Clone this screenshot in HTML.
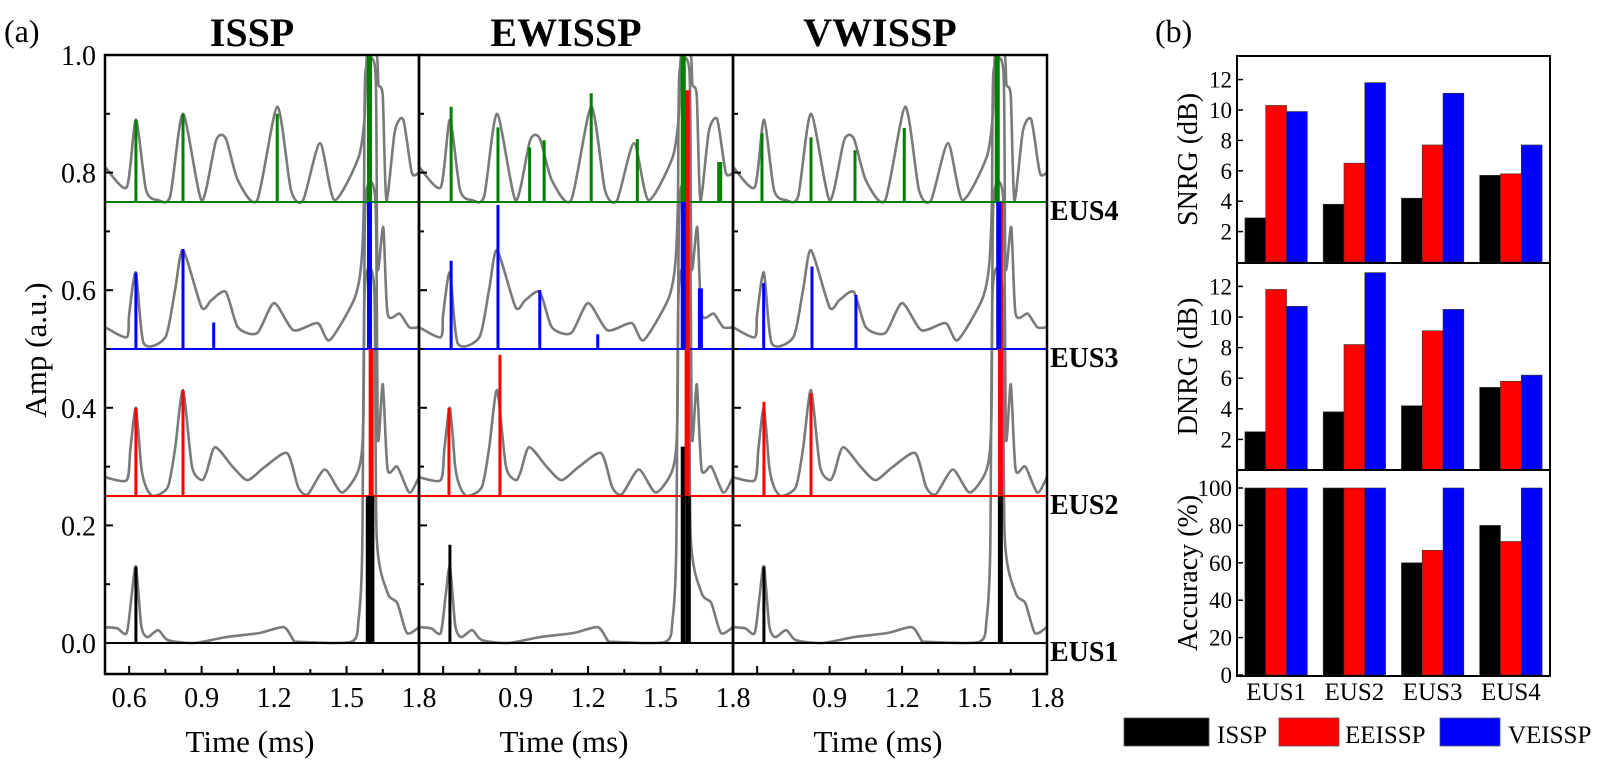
<!DOCTYPE html>
<html><head><meta charset="utf-8"><style>
html,body{margin:0;padding:0;background:#fff;}
svg{display:block;font-family:"Liberation Serif",serif;}
</style></head><body>
<svg id="fig" width="1602" height="768" viewBox="0 0 1602 768" xmlns="http://www.w3.org/2000/svg">
<g id="left"></g>
<g id="right"></g>
</svg>
<script>
// ---------- Data: panel (a) ----------
const panelTitles = ["ISSP", "EWISSP", "VWISSP"];
const eusLabels = ["EUS1", "EUS2", "EUS3", "EUS4"];
const baselines = [0, 0.25, 0.5, 0.75];
const xTicksFirst = [0.6, 0.9, 1.2, 1.5, 1.8];
const xTicksOther = [0.9, 1.2, 1.5, 1.8];
const yTicks = [0.0, 0.2, 0.4, 0.6, 0.8, 1.0];
// gray raw traces [time, amp]
const traceEUS1 = [[0.5,0.027],[0.55,0.025],[0.59,0.017],[0.61,0.08],[0.628,0.13],[0.65,0.03],[0.675,0.01],[0.72,0.022],[0.76,0.005],[0.87,0],[1.0,0.01],[1.14,0.017],[1.24,0.027],[1.28,0.005],[1.3,0.002],[1.52,0.002],[1.55,0.04],[1.565,0.155],[1.575,0.6],[1.615,0.6],[1.625,0.18],[1.67,0.085],[1.71,0.068],[1.75,0.017],[1.8,0.027]];
const traceEUS2 = [[0.5,0.282],[0.59,0.277],[0.605,0.33],[0.628,0.40],[0.65,0.3],[0.67,0.265],[0.7,0.25],[0.76,0.265],[0.79,0.33],[0.823,0.43],[0.86,0.3],[0.9,0.277],[0.92,0.29],[0.956,0.333],[1.03,0.299],[1.09,0.277],[1.16,0.299],[1.254,0.323],[1.3,0.265],[1.34,0.253],[1.41,0.295],[1.48,0.256],[1.55,0.295],[1.57,0.38],[1.578,0.75],[1.62,0.75],[1.63,0.35],[1.65,0.44],[1.67,0.295],[1.71,0.3],[1.76,0.256],[1.8,0.282]];
const traceEUS3 = [[0.5,0.537],[0.59,0.52],[0.6,0.56],[0.628,0.63],[0.66,0.51],[0.75,0.52],[0.79,0.6],[0.823,0.668],[0.9,0.571],[0.94,0.583],[1.0,0.597],[1.05,0.537],[1.13,0.527],[1.2,0.578],[1.28,0.532],[1.38,0.544],[1.43,0.515],[1.53,0.583],[1.56,0.64],[1.572,0.75],[1.578,0.97],[1.62,0.97],[1.628,0.64],[1.652,0.707],[1.67,0.56],[1.72,0.56],[1.76,0.537],[1.8,0.537]];
const traceEUS4 = [[0.5,0.81],[0.59,0.775],[0.628,0.89],[0.67,0.77],[0.72,0.753],[0.77,0.76],[0.823,0.90],[0.9,0.753],[0.96,0.855],[1.0,0.858],[1.05,0.787],[1.13,0.753],[1.213,0.912],[1.27,0.77],[1.32,0.753],[1.39,0.85],[1.45,0.753],[1.55,0.826],[1.575,0.895],[1.585,1.0],[1.625,1.0],[1.632,0.95],[1.65,0.93],[1.665,0.753],[1.7,0.87],[1.735,0.89],[1.77,0.8],[1.8,0.8]];
const traces = [traceEUS1, traceEUS2, traceEUS3, traceEUS4];
// spikes per panel per EUS: [time, top amplitude]
const spikesISSP = [
  [[0.628,0.13],[1.59,0.25],[1.605,0.25]],
  [[0.628,0.40],[0.823,0.43],[1.602,0.5]],
  [[0.628,0.63],[0.823,0.67],[0.95,0.545],[1.595,0.75]],
  [[0.628,0.89],[0.823,0.90],[1.213,0.90],[1.595,1.0]]
];
const spikesEWISSP = [
  [[0.628,0.167],[1.594,0.334],[1.615,0.25]],
  [[0.624,0.40],[0.835,0.49],[1.61,0.94]],
  [[0.633,0.65],[0.827,0.745],[1.0,0.6],[1.24,0.525],[1.594,0.75],[1.665,0.603]],
  [[0.633,0.912],[0.827,0.877],[0.958,0.843],[1.018,0.855],[1.213,0.935],[1.404,0.857],[1.594,1.0],[1.745,0.818]]
];
const spikesVWISSP = [
  [[0.628,0.13],[1.607,0.25]],
  [[0.628,0.41],[0.823,0.425],[1.607,0.75]],
  [[0.627,0.612],[0.827,0.64],[1.009,0.592],[1.6,0.75]],
  [[0.62,0.867],[0.823,0.86],[1.005,0.838],[1.209,0.876],[1.594,1.0]]
];
const spikeSets = [spikesISSP, spikesEWISSP, spikesVWISSP];
const eusColors = ["#000000", "#ff0000", "#0000ff", "#008000"];

// ---------- Data: panel (b) ----------
const barCategories = ["EUS1", "EUS2", "EUS3", "EUS4"];
const methods = ["ISSP", "EEISSP", "VEISSP"];
const methodColors = ["#000000", "#ff0000", "#0000ff"];
const snrgISSP = [2.9, 3.8, 4.2, 5.7];
const snrgEEISSP = [10.3, 6.5, 7.7, 5.8];
const snrgVEISSP = [9.9, 11.8, 11.1, 7.7];
const dnrgISSP = [2.5, 3.8, 4.2, 5.4];
const dnrgEEISSP = [11.8, 8.2, 9.1, 5.8];
const dnrgVEISSP = [10.7, 12.9, 10.5, 6.2];
const accISSP = [100, 100, 60, 80];
const accEEISSP = [100, 100, 66.7, 71.4];
const accVEISSP = [100, 100, 100, 100];
const dbTicks = [2, 4, 6, 8, 10, 12];
const accTicks = [0, 20, 40, 60, 80, 100];

const NS = "http://www.w3.org/2000/svg";
function mk(parent, tag, attrs, text) {
  const e = document.createElementNS(NS, tag);
  for (const k in attrs) e.setAttribute(k, attrs[k]);
  if (text !== undefined) e.textContent = text;
  parent.appendChild(e);
  return e;
}
function smoothPath(P) {
  let d = "M" + P[0][0].toFixed(1) + "," + P[0][1].toFixed(1);
  for (let i = 0; i < P.length - 1; i++) {
    const p0 = P[Math.max(0, i - 1)], p1 = P[i], p2 = P[i + 1], p3 = P[Math.min(P.length - 1, i + 2)];
    const k = 0.12;
    const c1 = [p1[0] + (p2[0] - p0[0]) * k, p1[1] + (p2[1] - p0[1]) * k];
    const c2 = [p2[0] - (p3[0] - p1[0]) * k, p2[1] - (p3[1] - p1[1]) * k];
    d += " C" + c1[0].toFixed(1) + "," + c1[1].toFixed(1) + " " + c2[0].toFixed(1) + "," + c2[1].toFixed(1) + " " + p2[0].toFixed(1) + "," + p2[1].toFixed(1);
  }
  return d;
}

// ---------- Draw panel (a) ----------
const L = document.getElementById("left");
const PX0 = 105, PW = 314, YTOP = 55, YBOT = 674;
const xT0 = 0.5, xT1 = 1.8;
function yA(v) { return 643 - v * 588; }
function xA(p, t) { return PX0 + p * PW + (t - xT0) / (xT1 - xT0) * PW; }

let t = mk(L, "text", {x: 4, y: 42, "font-size": 32}, "(a)");



for (let p = 0; p < 3; p++) {
  const g = mk(L, "g", {});
  
  
  const x0 = PX0 + p * PW;
  const title = mk(g, "text", {x: x0 + PW / 2 - 10, y: 46, "font-size": 40, "font-weight": "bold", "text-anchor": "middle"}, panelTitles[p]);
  
  
  const clipId = "clip" + p;
  const cp = mk(g, "clipPath", {id: clipId});
  mk(cp, "rect", {x: x0, y: YTOP, width: PW, height: YBOT - YTOP});
  const inner = mk(g, "g", {"clip-path": "url(#" + clipId + ")"});
  // traces
  for (let k = 0; k < 4; k++) {
    const P = traces[k].map(d => [xA(p, d[0]), yA(d[1])]);
    const pl = mk(inner, "path", {d: smoothPath(P), fill: "none", stroke: "#7a7a7a", "stroke-width": 2.6, "stroke-linejoin": "round"});
    
    
  }
  // baselines
  for (let k = 0; k < 4; k++) {
    const bl = mk(inner, "line", {x1: x0, x2: x0 + PW, y1: yA(baselines[k]), y2: yA(baselines[k]), stroke: eusColors[k], "stroke-width": 2});
    
    
  }
  // spikes
  for (let k = 0; k < 4; k++) {
    spikeSets[p][k].forEach(s => {
      const w = s[0] > 1.55 ? 5 : 3;
      const ln = mk(inner, "line", {x1: xA(p, s[0]), x2: xA(p, s[0]), y1: yA(baselines[k]), y2: Math.max(YTOP, yA(s[1])), stroke: eusColors[k], "stroke-width": w});
      
      
    });
  }
  // frame
  const fr = mk(g, "rect", {x: x0, y: YTOP, width: PW, height: YBOT - YTOP, fill: "none", stroke: "#000", "stroke-width": 2.5});
  
  
  // x ticks
  for (let v = 0.6; v <= 1.8001; v += 0.15) {
    const major = Math.abs(Math.round(v / 0.3) * 0.3 - v) < 1e-6;
    const tk = mk(g, "line", {x1: xA(p, v), x2: xA(p, v), y1: YBOT, y2: YBOT - (major ? 8 : 5), stroke: "#000", "stroke-width": 2});
    
    
  }
  (p === 0 ? xTicksFirst : xTicksOther).forEach(v => {
    const tl = mk(g, "text", {x: xA(p, v), y: 707, "font-size": 28, "text-anchor": "middle"}, v.toFixed(1));
    
    
  });
  const xt = mk(g, "text", {x: x0 + PW / 2 - 12, y: 752, "font-size": 31, "text-anchor": "middle"}, "Time (ms)");
  
  
  // y ticks on left of each panel
  for (let v = 0; v <= 1.0001; v += 0.1) {
    const major = Math.round(v * 10) % 2 === 0;
    const tk = mk(g, "line", {x1: x0, x2: x0 + (major ? 8 : 5), y1: yA(v), y2: yA(v), stroke: "#000", "stroke-width": 2});
    
    
  }
}
yTicks.forEach(v => {
  const tl = mk(L, "text", {x: 96, y: yA(v) + 10, "font-size": 28, "text-anchor": "end"}, v.toFixed(1));
  
  
});
let yt = mk(L, "text", {x: 0, y: 0, "font-size": 31, "text-anchor": "middle", transform: "translate(46,350) rotate(-90)"}, "Amp (a.u.)");


for (let k = 0; k < 4; k++) {
  const el = mk(L, "text", {x: 1050, y: yA(baselines[k]) + 18, "font-size": 28, "font-weight": "bold"}, eusLabels[k]);
  
  
}

// ---------- Draw panel (b) ----------
const R = document.getElementById("right");
const BX0 = 1237, BX1 = 1550, GW = (BX1 - BX0) / 4, BW = 20.8;
let lb = mk(R, "text", {x: 1155, y: 42, "font-size": 32}, "(b)");



const subplots = [
  {name: "snrg", title: "SNRG (dB)", top: 56, bottom: 263, zero: 262, scale: 15.2, ticks: dbTicks, series: [snrgISSP, snrgEEISSP, snrgVEISSP]},
  {name: "dnrg", title: "DNRG (dB)", top: 263, bottom: 470, zero: 470, scale: 15.3, ticks: dbTicks, series: [dnrgISSP, dnrgEEISSP, dnrgVEISSP]},
  {name: "accuracy", title: "Accuracy (%)", top: 470, bottom: 676, zero: 675, scale: 1.87, ticks: accTicks, series: [accISSP, accEEISSP, accVEISSP]}
];
subplots.forEach(sp => {
  const g = mk(R, "g", {});
  
  
  const yv = v => sp.zero - v * sp.scale;
  barCategories.forEach((c, i) => {
    const cx = BX0 + (i + 0.5) * GW;
    methods.forEach((m, j) => {
      const v = sp.series[j][i];
      const x = cx - 1.5 * BW + j * BW;
      const r = mk(g, "rect", {x: x, y: yv(v), width: BW, height: sp.zero - yv(v), fill: methodColors[j], stroke: "#333", "stroke-width": 0.6});
      
      
    });
  });
  const fr = mk(g, "rect", {x: BX0, y: sp.top, width: BX1 - BX0, height: sp.bottom - sp.top, fill: "none", stroke: "#000", "stroke-width": 2});
  
  
  sp.ticks.forEach(v => {
    const tk = mk(g, "line", {x1: BX0, x2: BX0 + 6, y1: yv(v), y2: yv(v), stroke: "#000", "stroke-width": 1.5});
    
    
    const tl = mk(g, "text", {x: BX0 - 5, y: yv(v) + 8, "font-size": 23, "text-anchor": "end"}, String(v));
    
    
  });
  const ty = mk(g, "text", {x: 0, y: 0, "font-size": 28, "text-anchor": "middle", transform: "translate(1197," + ((sp.top + sp.bottom) / 2) + ") rotate(-90)"}, sp.title);
  
  
});
barCategories.forEach((c, i) => {
  const tl = mk(R, "text", {x: BX0 + (i + 0.5) * GW, y: 700, "font-size": 25, "text-anchor": "middle"}, c);
  
  
});
const legendX = [1124, 1279, 1440];
const legendTX = [1217, 1345, 1508];
methods.forEach((m, j) => {
  const g = mk(R, "g", {});
  
  
  mk(g, "rect", {x: legendX[j], y: 718, width: j === 0 ? 85 : 60, height: 28, fill: methodColors[j], stroke: "#555", "stroke-width": 0.8});
  mk(g, "text", {x: legendTX[j], y: 743, "font-size": 25}, m);
});
</script>
</body></html>
